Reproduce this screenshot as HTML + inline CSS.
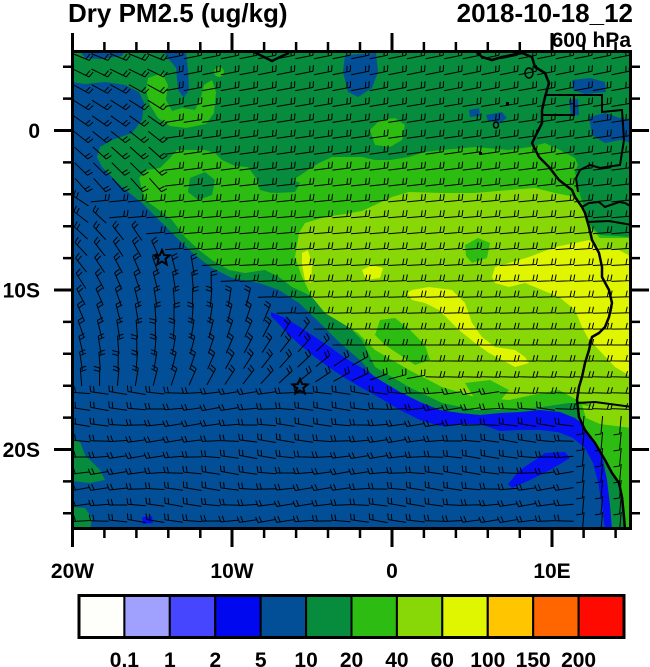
<!DOCTYPE html>
<html><head><meta charset="utf-8">
<style>
html,body{margin:0;padding:0;background:#fff;}
svg{display:block;}
</style></head>
<body>
<svg width="650" height="667" viewBox="0 0 650 667" xmlns="http://www.w3.org/2000/svg" font-family="'Liberation Sans', Arial, sans-serif" font-weight="bold">
<defs><clipPath id="c"><rect x="72.5" y="51.5" width="558" height="477"/></clipPath></defs>
<rect width="650" height="667" fill="#fff"/>
<g clip-path="url(#c)">
  <rect x="70" y="48" width="565" height="485" fill="#078B3C"/>
  <!-- dark blue SW ocean -->
  <polygon fill="#034F97" points="72,82 85,84 105,82 125,85 139,92 144,103 142,120 132,133 112,140 100,147 97,157 102,167 122,187 142,203 162,223 179,240 195,255 212,268 232,278 259,283 279,290 299,303 319,322 339,342 362,362 375,378 409,398 442,413 475,419 509,417 542,414 559,417 575,425 589,438 599,457 605,480 609,503 612,530 72,530"/>
  <!-- small dark blue patches -->
  <polygon fill="#034F97" points="80,51 125,51 122,56 100,59 85,58"/>
  <polygon fill="#034F97" points="163,51 186,51 188,70 189,90 184,98 178,90 176,68 168,58"/>
  <polygon fill="#034F97" points="345,55 376,53 378,72 372,88 358,97 348,92 343,72"/>
  <polygon fill="#034F97" points="572,80 590,78 605,82 606,92 585,94 573,90"/>
  <polygon fill="#034F97" points="589,117 605,113 620,118 632,120 632,143 620,140 605,143 592,135"/>
  <polygon fill="#034F97" points="469,110 479,108 480,116 470,117"/>
  <polygon fill="#034F97" points="486,115 502,112 507,118 500,123 488,121"/>
  <polygon fill="#034F97" points="569,100 578,99 579,115 571,116"/>
  <!-- bottom-left green patches -->
  <polygon fill="#078B3C" points="72,440 80,442 85,455 100,470 105,480 90,483 72,481"/>
  <polygon fill="#078B3C" points="72,507 85,508 92,518 90,530 72,530"/>
  <polygon fill="#0610F0" points="142,517 152,516 153,523 143,524"/>
  <!-- blue strip -->
  <polygon fill="#0610F0" points="271,312 285,318 300,327 315,337 330,347 345,358 362,368 380,380 400,392 420,402 440,410 460,413 480,415 500,413 520,412 540,410 560,412 575,418 588,428 597,443 603,460 607,480 610,505 612,530 605,530 602,505 598,482 593,463 585,448 573,438 558,432 540,430 520,430 500,431 480,424 460,424 440,426 420,420 400,410 380,398 362,388 345,378 330,368 315,357 300,345 287,333 277,322 271,316"/>
  <polygon fill="#0610F0" points="545,453 565,452 570,458 550,470 530,480 512,488 508,484 520,470 535,460"/>
  <!-- 20-40 -->
  <polygon fill="#2DBC11" points="148,78 162,73 168,85 166,100 172,111 182,108 195,110 200,100 204,85 212,80 216,92 214,113 206,124 186,128 170,126 158,118 150,105 146,90"/>
  <circle cx="219" cy="72" r="5" fill="#2DBC11"/>
  <polygon fill="#2DBC11" points="370,130 380,120 395,118 405,125 402,140 390,147 375,145"/>
  <polygon fill="#2DBC11" points="139,178 147,170 160,168 170,158 177,150 190,150 205,150 215,153 222,160 235,166 248,167 256,178 260,190 272,193 289,183 305,172 319,163 332,157 345,157 362,157 375,160 390,160 409,157 425,152 442,150 475,147 509,150 530,147 545,143 560,150 575,158 578,165 575,172 580,195 585,210 590,225 600,235 632,237 632,530 626,530 622,497 619,483 612,473 605,460 595,443 585,430 579,417 577,403 569,403 542,407 509,410 475,410 442,403 409,387 375,367 362,340 339,317 322,303 305,293 292,287 279,277 265,270 245,273 229,270 212,260 199,250 185,237 172,220 159,210 145,200"/>
  <polygon fill="#078B3C" points="190,178 205,172 215,180 212,195 198,200 188,192"/>
  <polygon fill="#078B3C" points="262,178 285,177 300,183 295,192 275,193 262,188"/>
  <polygon fill="#078B3C" points="582,170 600,168 620,165 632,165 632,232 600,232 590,222 585,205"/>
  <!-- 40-60 -->
  <polygon fill="#88D808" points="299,233 305,223 325,217 345,214 362,211 392,197 409,192 442,193 475,193 509,190 535,188 555,193 575,197 585,210 590,228 600,238 632,238 632,420 610,414 590,405 577,400 559,390 542,393 509,400 475,397 442,387 409,370 375,350 358,333 345,325 325,313 312,297 302,277 295,257"/>
  <polygon fill="#2DBC11" points="380,320 395,318 410,330 425,345 430,360 415,365 400,355 385,345 375,335"/>
  <polygon fill="#2DBC11" points="465,383 490,380 509,390 500,401 475,399"/>
  <polygon fill="#2DBC11" points="465,245 478,238 490,243 487,258 472,263 466,256"/>
  <polygon fill="#88D808" points="582,405 632,412 632,428 600,424 586,418"/>
  <!-- 60-100 -->
  <polygon fill="#E0F500" points="492,277 495,267 509,263 529,257 555,247 575,243 589,240 602,250 619,250 632,257 632,377 615,367 599,350 589,340 582,327 575,310 559,297 542,290 525,283 509,287 495,283"/>
  <polygon fill="#E0F500" points="407,293 412,290 429,287 452,290 465,303 472,323 482,337 495,347 515,350 525,357 529,363 515,367 502,360 489,353 475,343 459,330 449,320 439,310 425,303 412,300"/>
  <polygon fill="#E0F500" points="362,270 372,265 383,268 380,278 366,280"/>
  <polygon fill="#E0F500" points="302,253 308,250 312,265 311,283 305,280 302,265"/>
  <!-- wind barbs -->
  <path id="barbs" fill="none" stroke="#000" stroke-width="1" d=""/>
  <!-- coastline -->
  <polyline fill="none" stroke="#000" stroke-width="2.5" stroke-linejoin="round" points="475,50 482,57 492,60 502,57 522,53 532,57 535,67 545,73 549,83 545,97 542,110 542,123 535,137 532,143 539,157 549,167 559,180 572,190 575,197 582,207 585,213 589,227 592,240 599,253 602,267 602,277 609,290 612,303 609,317 605,327 599,333 592,337 589,350 585,363 582,377 579,387 577,400 579,417 585,430 595,443 605,460 612,473 619,483 622,497 624,517 625,530"/>
  <polyline fill="none" stroke="#000" stroke-width="2.5" points="252,51 262,56 272,61 280,57 289,53"/>
  <ellipse cx="529" cy="73" rx="4" ry="5" fill="none" stroke="#000" stroke-width="1.5"/>
  <ellipse cx="496" cy="125" rx="2.5" ry="3" fill="none" stroke="#000" stroke-width="1.5"/>
  <rect x="506" y="102" width="3" height="3" fill="#000"/>
  <rect x="479" y="152" width="3" height="3" fill="#000"/>
  <!-- borders -->
  <g fill="none" stroke="#000" stroke-width="2">
    <polyline points="545,95 602,95 602,112 622,110 624,140 620,165 600,168 590,165 580,170 576,178 578,192"/>
    <polyline points="574,95 574,115 542,115"/>
    <polyline points="582,207 589,203 599,202 605,207 619,202 625,203 632,207"/>
    <polyline points="587,222 609,221 632,225"/>
    <polyline points="577,403 595,402 632,407"/>
  </g>
  <!-- stars -->
  <g fill="none" stroke="#000" stroke-width="2" stroke-linejoin="miter">
    <polygon points="162,250 164.1,255.1 169.6,255.5 165.4,259 166.7,264.4 162,261.5 157.3,264.4 158.6,259 154.4,255.5 159.9,255.1"/>
    <polygon points="300,379 302.1,384.1 307.6,384.5 303.4,388 304.7,393.4 300,390.5 295.3,393.4 296.6,388 292.4,384.5 297.9,384.1"/>
  </g>
</g>
<!-- frame -->
<rect x="72.5" y="51.5" width="558" height="477" fill="none" stroke="#000" stroke-width="3"/>
<!-- ticks -->
<g stroke="#000" fill="none">
  <path stroke-width="3" d="M72.5 33V51.5M232 33V51.5M392 33V51.5M552 33V51.5M72.5 528.5V547M232 528.5V547M392 528.5V547M552 528.5V547M54 130.5H72.5M54 290H72.5M54 449.5H72.5M630.5 130.5H649M630.5 290H649M630.5 449.5H649"/>
  <path stroke-width="2.5" d="M104.4 42V51.5M136.4 42V51.5M168.3 42V51.5M200.3 42V51.5M264.1 42V51.5M296.1 42V51.5M328 42V51.5M360 42V51.5M423.9 42V51.5M455.9 42V51.5M487.8 42V51.5M519.8 42V51.5M583.6 42V51.5M615.6 42V51.5
  M104.4 528.5V538M136.4 528.5V538M168.3 528.5V538M200.3 528.5V538M264.1 528.5V538M296.1 528.5V538M328 528.5V538M360 528.5V538M423.9 528.5V538M455.9 528.5V538M487.8 528.5V538M519.8 528.5V538M583.6 528.5V538M615.6 528.5V538
  M63 66.7H72.5M63 98.6H72.5M63 162.4H72.5M63 194.3H72.5M63 226.2H72.5M63 258.1H72.5M63 321.9H72.5M63 353.8H72.5M63 385.7H72.5M63 417.6H72.5M63 481.4H72.5M63 513.3H72.5
  M630.5 66.7H640M630.5 98.6H640M630.5 162.4H640M630.5 194.3H640M630.5 226.2H640M630.5 258.1H640M630.5 321.9H640M630.5 353.8H640M630.5 385.7H640M630.5 417.6H640M630.5 481.4H640M630.5 513.3H640"/>
</g>
<!-- titles -->
<text x="68" y="22" font-size="26">Dry PM2.5 (ug/kg)</text>
<text x="633" y="22" font-size="26" text-anchor="end">2018-10-18_12</text>
<text x="631" y="47" font-size="21" text-anchor="end">600 hPa</text>
<!-- axis labels -->
<g font-size="21">
  <text x="40" y="138" text-anchor="end">0</text>
  <text x="40" y="297.5" text-anchor="end">10S</text>
  <text x="40" y="457" text-anchor="end">20S</text>
  <text x="72.5" y="578" text-anchor="middle">20W</text>
  <text x="232" y="578" text-anchor="middle">10W</text>
  <text x="392" y="578" text-anchor="middle">0</text>
  <text x="552" y="578" text-anchor="middle">10E</text>
</g>
<!-- colorbar -->
<g stroke="#000" stroke-width="2">
  <rect x="79" y="595.5" width="45.4" height="42" fill="#FEFEFB"/>
  <rect x="124.4" y="595.5" width="45.4" height="42" fill="#A0A0FF"/>
  <rect x="169.8" y="595.5" width="45.4" height="42" fill="#4646FF"/>
  <rect x="215.3" y="595.5" width="45.4" height="42" fill="#0008F0"/>
  <rect x="260.7" y="595.5" width="45.4" height="42" fill="#034F97"/>
  <rect x="306.1" y="595.5" width="45.4" height="42" fill="#078B3C"/>
  <rect x="351.5" y="595.5" width="45.4" height="42" fill="#2DBC11"/>
  <rect x="396.9" y="595.5" width="45.4" height="42" fill="#88D808"/>
  <rect x="442.3" y="595.5" width="45.4" height="42" fill="#E0F500"/>
  <rect x="487.8" y="595.5" width="45.4" height="42" fill="#FFC600"/>
  <rect x="533.2" y="595.5" width="45.4" height="42" fill="#FF6600"/>
  <rect x="578.6" y="595.5" width="45.4" height="42" fill="#FF0A00"/>
</g>
<rect x="79" y="595.5" width="545" height="42" fill="none" stroke="#000" stroke-width="3"/>
<g font-size="21" text-anchor="middle">
  <text x="124.4" y="667">0.1</text>
  <text x="169.8" y="667">1</text>
  <text x="215.3" y="667">2</text>
  <text x="260.7" y="667">5</text>
  <text x="306.1" y="667">10</text>
  <text x="351.5" y="667">20</text>
  <text x="396.9" y="667">40</text>
  <text x="442.3" y="667">60</text>
  <text x="487.8" y="667">100</text>
  <text x="533.2" y="667">150</text>
  <text x="578.6" y="667">200</text>
</g>
</svg>
<script>
(function(){
var g=document.getElementById('barbs');
var d='';
function bY(x){return x<362? 190+(x-72)*(170/290) : 360+(x-362)*0.25;}
for(var j=0;j<30;j++){var y=57+j*16;
 for(var i=0;i<30;i++){var x=81+i*18.6;
  var a, nf=2;
  if(y<bY(x)){ if(x<170&&y<200){a=35+(y-120)*0.2;} else {a=-8+(y-150)*0.04;} }
  else if(x>565&&y>395){a=95;nf=1;}
  else if(y<380){a=-100+(x-150)*0.25+(y-300)*0.3;}
  else {a=180+10*Math.sin(x/37+y/23);}
  var r=a*Math.PI/180, ux=Math.cos(r), uy=Math.sin(r);
  var px=Math.sin(r), py=-Math.cos(r); if(py>0){px=-px;py=-py;}
  var sx=x-9*ux, sy=y-9*uy, tx=x+9*ux, ty=y+9*uy;
  d+='M'+sx.toFixed(1)+' '+sy.toFixed(1)+'L'+tx.toFixed(1)+' '+ty.toFixed(1);
  for(var k=0;k<nf;k++){var bx=tx-k*3.5*ux, by=ty-k*3.5*uy;
   d+='M'+bx.toFixed(1)+' '+by.toFixed(1)+'L'+(bx+6*px+1.5*ux).toFixed(1)+' '+(by+6*py+1.5*uy).toFixed(1);}
 }}
g.setAttribute('d',d);
})();
</script>
</body></html>
